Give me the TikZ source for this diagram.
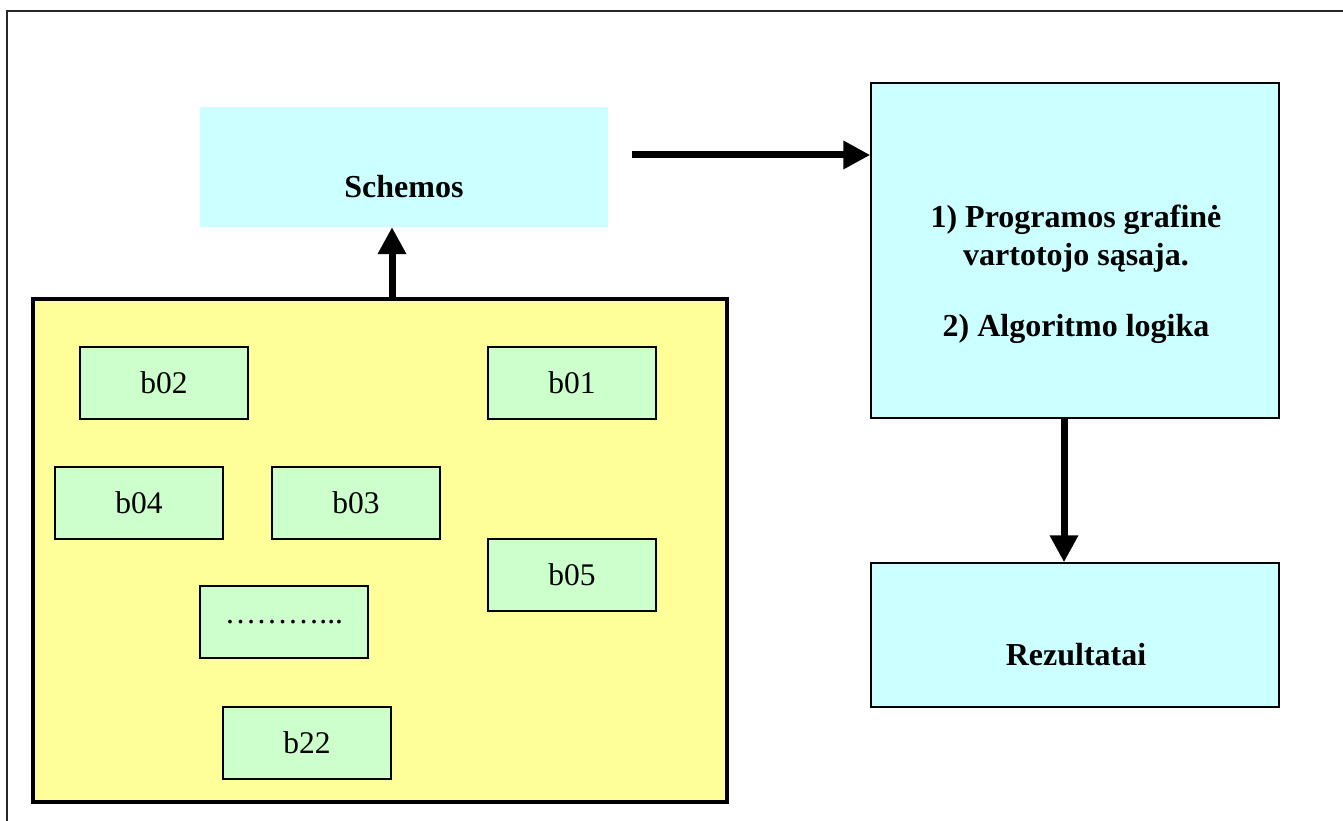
\documentclass[tikz,border=0pt]{standalone}
\usepackage{fontspec}
\setmainfont{Liberation Serif}
\usetikzlibrary{arrows.meta}
\definecolor{boxcyan}{HTML}{CCFFFF}
\definecolor{boxyellow}{HTML}{FFFF99}
\definecolor{boxgreen}{HTML}{CCFFCC}
\tikzset{
  plain/.style={font=\fontsize{31.5}{37}\selectfont},
  heavy/.style={font=\bfseries\fontsize{32}{38}\selectfont},
  item/.style={draw=black, line width=2pt, fill=boxgreen, inner sep=0pt,
    minimum width=168pt, minimum height=72pt, plain},
  panel/.style={draw=black, line width=1.5pt, fill=boxcyan, inner sep=0pt},
  flow/.style={line width=7pt, -{Triangle[length=27pt,width=27pt]}},
}
\begin{document}
\begin{tikzpicture}[x=1pt,y=-1pt]
\useasboundingbox (0,0) rectangle (1343,821);

% outer frame (only the top and left edges are visible)
\draw[line width=2.5pt, black!85] (7,821) -- (7,11) -- (1343,11);

% source schemes
\node[fill=boxcyan, inner sep=0pt, minimum width=408pt, minimum height=120pt] (sch) at (404,167) {};
\node[heavy, anchor=base] (schtxt) at (404,197) {Schemos};

% container of building blocks
\node[draw=black, line width=4pt, fill=boxyellow, inner sep=0pt,
      minimum width=694pt, minimum height=503pt] (blocks) at (380,550) {};
\node[item] (b02) at (164,383) {b02};
\node[item] (b01) at (572,383) {b01};
\node[item] (b04) at (139,503) {b04};
\node[item] (b03) at (356,503) {b03};
\node[item] (b05) at (572,575) {b05};
\node[item] (bdots) at (284,622) {………...};
\node[item] (b22) at (307,743) {b22};

% program box
\node[panel, minimum width=408pt, minimum height=335pt] (gui) at (1075,250.5) {};
\node[heavy, anchor=base] (g1) at (1076,227) {1) Programos grafinė};
\node[heavy, anchor=base] (g2) at (1076,265) {vartotojo sąsaja.};
\node[heavy, anchor=base] (g3) at (1076,336) {2) Algoritmo logika};

% results box
\node[panel, minimum width=408pt, minimum height=144pt] (res) at (1075,635) {};
\node[heavy, anchor=base] (restxt) at (1076,665) {Rezultatai};

% connectors
\coordinate (upx) at (392,0);
\coordinate (downx) at (1064,0);
\coordinate (rstart) at (632,155);
\draw[flow] (blocks.north -| upx) -- (sch.south -| upx);
\draw[flow] (rstart) -- (rstart -| gui.west);
\draw[flow] (gui.south -| downx) -- (res.north -| downx);
\end{tikzpicture}
\end{document}
